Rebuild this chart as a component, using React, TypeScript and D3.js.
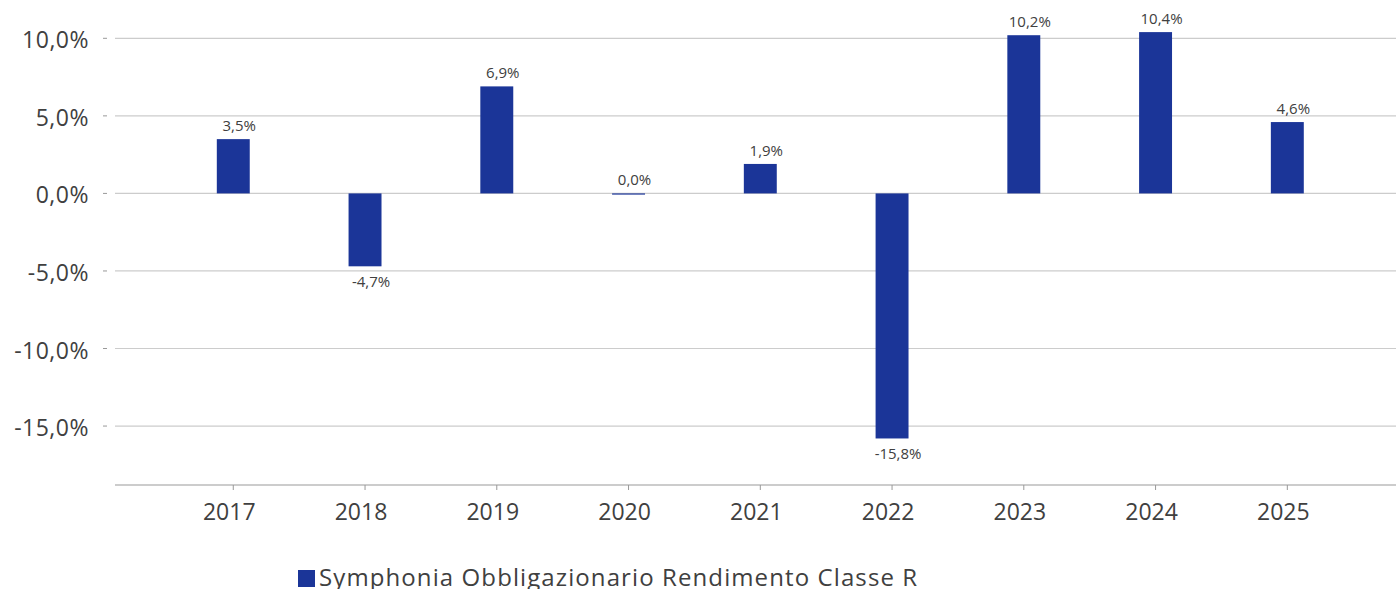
import * as d3 from "d3";
import { useEffect, useRef } from "react";

const years = ["2017", "2018", "2019", "2020", "2021", "2022", "2023", "2024", "2025"];
const returns = [3.5, -4.7, 6.9, 0.0, 1.9, -15.8, 10.2, 10.4, 4.6];
const yTicks = [10, 5, 0, -5, -10, -15];
const seriesName = "Symphonia Obbligazionario Rendimento Classe R";

const fmt = (v: number) => v.toFixed(1).replace(".", ",") + "%";

export default function App() {
    const ref = useRef<SVGSVGElement>(null);

    useEffect(() => {
        const svg = d3.select(ref.current);
        svg.selectAll("*").remove();

        const width = 1396;
        const height = 589;
        const font = "'Open Sans', sans-serif";
        const textColor = "#404040";
        const barColor = "#1b3598";

        const x = d3.scaleBand()
            .domain(years)
            .range([167.4, 1353.2])
            .paddingInner(0.75)
            .paddingOuter(0.375);

        const y = d3.scaleLinear()
            .domain([-18.8, 12.47])
            .range([485, 0]);

        // grid lines
        svg.append("g")
            .selectAll("line")
            .data(yTicks)
            .enter()
            .append("line")
            .attr("x1", 115)
            .attr("x2", width)
            .attr("y1", d => y(d))
            .attr("y2", d => y(d))
            .attr("stroke", "#cccccc")
            .attr("stroke-width", 1.2);

        // y tick dashes + labels
        svg.append("g")
            .selectAll("line")
            .data(yTicks)
            .enter()
            .append("line")
            .attr("x1", 103)
            .attr("x2", 107)
            .attr("y1", d => y(d))
            .attr("y2", d => y(d))
            .attr("stroke", "#999");

        svg.append("g")
            .selectAll("text")
            .data(yTicks)
            .enter()
            .append("text")
            .attr("x", 89)
            .attr("y", d => y(d) + 10)
            .attr("text-anchor", "end")
            .attr("font-family", font)
            .attr("font-size", 23)
            .attr("font-weight", 500)
            .attr("letter-spacing", 0.5)
            .attr("fill", textColor)
            .text(d => fmt(d));

        // bars
        svg.append("g")
            .selectAll("rect")
            .data(returns)
            .enter()
            .append("rect")
            .attr("x", (d, i) => x(years[i])!)
            .attr("width", x.bandwidth())
            .attr("y", d => (d >= 0 ? y(d) : y(0)))
            .attr("height", d => Math.max(1.2, Math.abs(y(d) - y(0))))
            .attr("fill", barColor);

        // value labels
        svg.append("g")
            .selectAll("text")
            .data(returns)
            .enter()
            .append("text")
            .attr("x", (d, i) => x(years[i])! + x.bandwidth() / 2 + 6)
            .attr("y", d => (d >= 0 ? y(d) - 8 : y(d) + 21))
            .attr("text-anchor", "middle")
            .attr("font-family", font)
            .attr("font-size", 15)
            .attr("font-weight", 500)
            .attr("fill", textColor)
            .text(d => fmt(d));

        // x axis
        svg.append("line")
            .attr("x1", 115)
            .attr("x2", width)
            .attr("y1", 485)
            .attr("y2", 485)
            .attr("stroke", "#999")
            .attr("stroke-width", 1.2);

        svg.append("g")
            .selectAll("line")
            .data(years)
            .enter()
            .append("line")
            .attr("x1", d => x(d)! + x.bandwidth() / 2)
            .attr("x2", d => x(d)! + x.bandwidth() / 2)
            .attr("y1", 485)
            .attr("y2", 490)
            .attr("stroke", "#999");

        svg.append("g")
            .selectAll("text")
            .data(years)
            .enter()
            .append("text")
            .attr("x", d => x(d)! + x.bandwidth() / 2 - 4)
            .attr("y", 520)
            .attr("text-anchor", "middle")
            .attr("font-family", font)
            .attr("font-size", 23)
            .attr("font-weight", 500)
            .attr("fill", textColor)
            .text(d => d);

        // legend
        svg.append("rect")
            .attr("x", 298)
            .attr("y", 570)
            .attr("width", 17)
            .attr("height", 17)
            .attr("fill", barColor);

        svg.append("text")
            .attr("x", 319)
            .attr("y", 586)
            .attr("font-family", font)
            .attr("font-size", 24)
            .attr("font-weight", 500)
            .attr("letter-spacing", 1.1)
            .attr("fill", textColor)
            .text(seriesName);

        svg.attr("width", width).attr("height", height);
    }, []);

    return (
        <svg ref={ref} style={{ position: "absolute", left: 0, top: 0 }} width={1396} height={589}></svg>
    );
}
